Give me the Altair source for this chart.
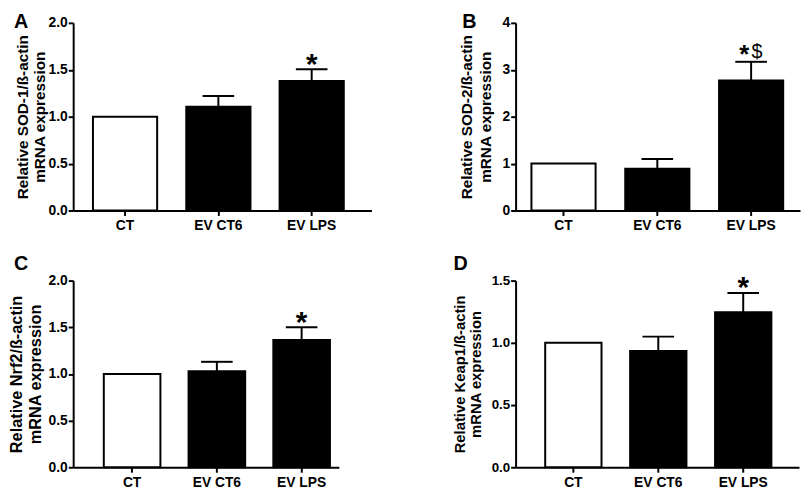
import altair as alt
import pandas as pd

groups = ["CT", "EV CT6", "EV LPS"]
fills = ["white", "black", "black"]

sod1_mean = [1.0, 1.105, 1.38]
sod1_err = [0.0, 0.115, 0.125]
sod1_star = ["", "", "*"]
sod1_dollar = ["", "", ""]

sod2_mean = [1.0, 0.89, 2.77]
sod2_err = [0.0, 0.21, 0.40]
sod2_star = ["", "", "*"]
sod2_dollar = ["", "", "$"]

nrf2_mean = [1.0, 1.03, 1.365]
nrf2_err = [0.0, 0.10, 0.135]
nrf2_star = ["", "", "*"]
nrf2_dollar = ["", "", ""]

keap1_mean = [1.0, 0.935, 1.245]
keap1_err = [0.0, 0.115, 0.155]
keap1_star = ["", "", "*"]
keap1_dollar = ["", "", ""]

FONT = "Liberation Sans"


def panel(mean, err, star, dollar, letter, title_lines, ymax, ticks, fmt,
          w, h, pin, pout, palign, tfs, tlh, tpad, lfs, lx, ly,
          star_dx, star_dy, star_fs, dol_dx):
    df = pd.DataFrame({
        "group": groups,
        "mean": mean,
        "hi": [m + e for m, e in zip(mean, err)],
        "err": err,
        "star": star,
        "dollar": dollar,
    })
    xs = alt.X("group:N", sort=groups,
               scale=alt.Scale(domain=groups, paddingInner=pin,
                               paddingOuter=pout, align=palign),
               axis=alt.Axis(title=None, labelAngle=0, labelPadding=3))
    ys = alt.Y("mean:Q",
               scale=alt.Scale(domain=[0, ymax], nice=False, zero=True),
               axis=alt.Axis(title=title_lines, values=ticks, format=fmt,
                             titleFontSize=tfs, titleLineHeight=tlh,
                             titlePadding=tpad, labelFontSize=lfs,
                             labelPadding=1))
    base = alt.Chart(df)
    bars = base.mark_bar(stroke="black", strokeWidth=2).encode(
        x=xs, y=ys,
        fill=alt.Fill("group:N",
                      scale=alt.Scale(domain=groups, range=fills),
                      legend=None),
    )
    whisk = base.transform_filter("datum.err > 0").mark_rule(
        color="black", strokeWidth=2).encode(
        x=alt.X("group:N", sort=groups), y="mean:Q", y2="hi:Q")
    cap = base.transform_filter("datum.err > 0").mark_tick(
        color="black", thickness=2, size=32, opacity=1).encode(
        x=alt.X("group:N", sort=groups), y=alt.Y("hi:Q"))
    stars = base.mark_text(font=FONT, fontWeight="bold", fontSize=star_fs,
                           baseline="alphabetic", align="center",
                           dx=star_dx, dy=star_dy, color="black").encode(
        x=alt.X("group:N", sort=groups), y=alt.Y("hi:Q"), text="star:N")
    dol = base.mark_text(font=FONT, fontWeight="normal", fontSize=20,
                         baseline="alphabetic", align="center",
                         dx=dol_dx, dy=-4, color="black").encode(
        x=alt.X("group:N", sort=groups), y=alt.Y("hi:Q"), text="dollar:N")
    lab = alt.Chart(pd.DataFrame({"t": [letter]})).mark_text(
        font=FONT, fontWeight="bold", fontSize=20, align="left",
        baseline="top", color="black").encode(
        x=alt.value(lx), y=alt.value(ly), text="t:N")
    return alt.layer(bars, whisk, cap, stars, dol, lab).properties(
        width=w, height=h)


pA = panel(sod1_mean, sod1_err, sod1_star, sod1_dollar, "A",
           ["Relative SOD-1/ß-actin", "mRNA expression"], 2.0,
           [0, 0.5, 1.0, 1.5, 2.0], ".1f", 302, 190,
           0.312, 0.254, 0.417, 15.5, 17, 1, 14, -60, -11, 0, 5, 30, 0)
pB = panel(sod2_mean, sod2_err, sod2_star, sod2_dollar, "B",
           ["Relative SOD-2/ß-actin", "mRNA expression"], 4,
           [0, 1, 2, 3, 4], "d", 288, 190,
           0.316, 0.174, 0.485, 15.5, 19, 9, 14, -54, -11, -7, 1, 26, 6)
pC = panel(nrf2_mean, nrf2_err, nrf2_star, nrf2_dollar, "C",
           ["Relative Nrf2/ß-actin", "mRNA expression"], 2.0,
           [0, 0.5, 1.0, 1.5, 2.0], ".1f", 269, 189,
           0.332, 0.233, 0.775, 16.5, 19, 5, 14, -60, -27, 0, 5, 30, 0)
pD = panel(keap1_mean, keap1_err, keap1_star, keap1_dollar, "D",
           ["Relative Keap1/ß-actin", "mRNA expression"], 1.5,
           [0, 0.5, 1.0, 1.5], ".1f", 287, 189,
           0.337, 0.337, 0.517, 15, 16, 8, 13.5, -63, -27, 0, 4, 30, 0)

chart = alt.concat(pA, pB, pC, pD, columns=2,
                   spacing={"row": 20, "column": 80}).properties(
    padding={"left": 0, "top": 0, "right": 0, "bottom": 0}
).configure_view(stroke="transparent").configure_axis(
    labelFont=FONT, labelFontWeight="bold", labelColor="black",
    titleFont=FONT, titleFontWeight="bold", titleColor="black",
    domainColor="black", domainWidth=2, tickColor="black", tickWidth=2,
    tickSize=5, grid=False, labelFontSize=14
).configure_axisX(labelFontSize=14, tickSize=5)

chart.save("out.html", embed_options={"renderer": "svg", "actions": False})
